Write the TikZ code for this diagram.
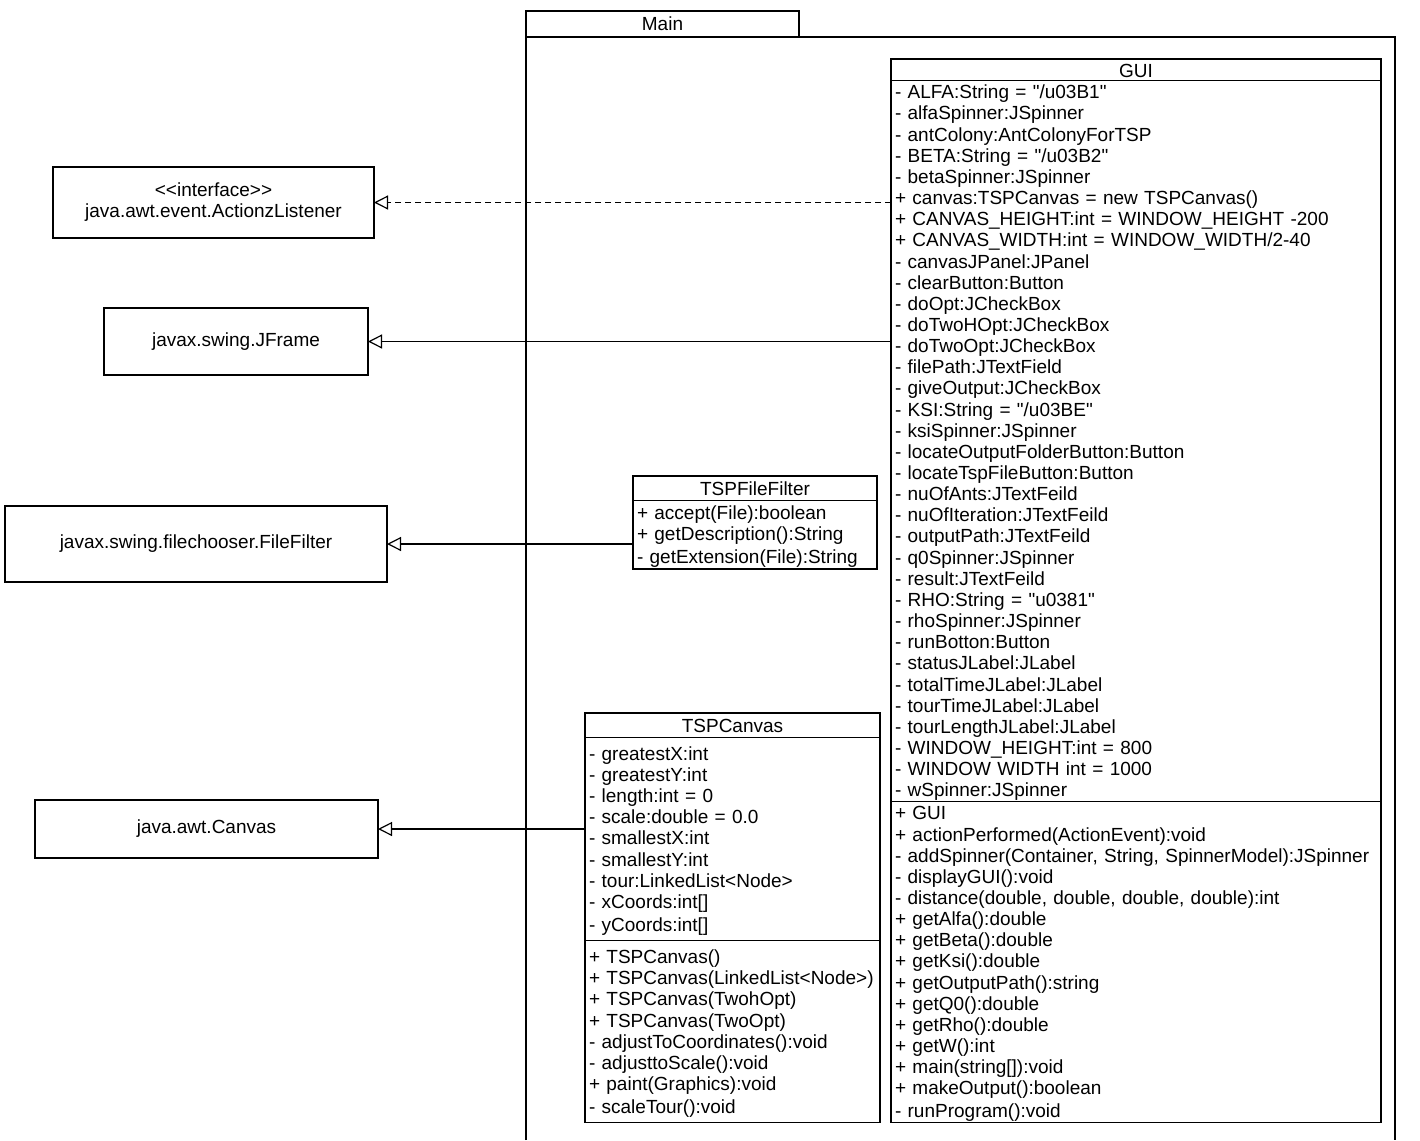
\documentclass[tikz,border=0pt]{standalone}
\usepackage{fontspec}
\newfontfamily\umlsans{Liberation Sans}
\usetikzlibrary{positioning,arrows.meta}
\newcommand\umlfont{\umlsans\fontsize{19}{21.15}\selectfont}
\newcommand\umlstrut{\rule[-3pt]{0pt}{21.15pt}}
\tikzset{
  umlbox/.style={draw, line width=1.3pt, outer sep=0pt, inner xsep=4pt, inner ysep=0.5pt,
    font=\umlfont, execute at begin node=\umlstrut, execute at end node=\umlstrut},
  classhead/.style={umlbox, align=center},
  classpart/.style={umlbox, align=left},
  basebox/.style={draw, line width=1.3pt, outer sep=0pt, align=center, font=\umlfont},
  extends/.style={line width=1.2pt, -{Triangle[open,length=14pt,width=14pt]}},
  realizes/.style={extends, dash pattern=on 6pt off 4pt}
}
\begin{document}
\begin{tikzpicture}[x=1pt,y=-1pt]
    \useasboundingbox[fill=white] (0,0) rectangle (1420,1140);
    \node[basebox, minimum width=273pt, minimum height=26pt, anchor=north west] (main) at (526,11) {Main};
    \draw[line width=1.1pt] (526,1140) -- (main.south west) -- (1395,37) -- (1395,1140);

    \node[classhead, text width=482pt, anchor=north west, inner ysep=0pt] (gui) at (891,59) {GUI};
    \node[classpart, text width=482pt, below=0pt of gui] (guiattr) {- ALFA:String = "/u03B1"\\
- alfaSpinner:JSpinner\\
- antColony:AntColonyForTSP\\
- BETA:String = "/u03B2"\\
- betaSpinner:JSpinner\\
+ canvas:TSPCanvas = new TSPCanvas()\\
+ CANVAS\_HEIGHT:int = WINDOW\_HEIGHT -200\\
+ CANVAS\_WIDTH:int = WINDOW\_WIDTH/2-40\\
- canvasJPanel:JPanel\\
- clearButton:Button\\
- doOpt:JCheckBox\\
- doTwoHOpt:JCheckBox\\
- doTwoOpt:JCheckBox\\
- filePath:JTextField\\
- giveOutput:JCheckBox\\
- KSI:String = "/u03BE"\\
- ksiSpinner:JSpinner\\
- locateOutputFolderButton:Button\\
- locateTspFileButton:Button\\
- nuOfAnts:JTextFeild\\
- nuOfIteration:JTextFeild\\
- outputPath:JTextFeild\\
- q0Spinner:JSpinner\\
- result:JTextFeild\\
- RHO:String = "u0381"\\
- rhoSpinner:JSpinner\\
- runBotton:Button\\
- statusJLabel:JLabel\\
- totalTimeJLabel:JLabel\\
- tourTimeJLabel:JLabel\\
- tourLengthJLabel:JLabel\\
- WINDOW\_HEIGHT:int = 800\\
- WINDOW WIDTH int = 1000\\
- wSpinner:JSpinner};
    \node[classpart, text width=482pt, below=0pt of guiattr] (guiops) {+ GUI\\
+ actionPerformed(ActionEvent):void\\
- addSpinner(Container, String, SpinnerModel):JSpinner\\
- displayGUI():void\\
- distance(double, double, double, double):int\\
+ getAlfa():double\\
+ getBeta():double\\
+ getKsi():double\\
+ getOutputPath():string\\
+ getQ0():double\\
+ getRho():double\\
+ getW():int\\
+ main(string[]):void\\
+ makeOutput():boolean\\
- runProgram():void};

    \node[classhead, text width=236pt, anchor=north west, inner ysep=1.5pt] (tff) at (633,476) {TSPFileFilter};
    \node[classpart, text width=236pt, below=0pt of tff, inner ysep=1.3pt] (tffops) {+ accept(File):boolean\\
+ getDescription():String\\
- getExtension(File):String};

    \node[classhead, text width=287pt, anchor=north west, inner ysep=1.5pt] (tcv) at (585,713) {TSPCanvas};
    \node[classpart, text width=287pt, below=0pt of tcv, inner ysep=5pt] (tcvattr) {- greatestX:int\\
- greatestY:int\\
- length:int = 0\\
- scale:double = 0.0\\
- smallestX:int\\
- smallestY:int\\
- tour:LinkedList<Node>\\
- xCoords:int[]\\
- yCoords:int[]};
    \node[classpart, text width=287pt, below=0pt of tcvattr, inner ysep=5pt] (tcvops) {+ TSPCanvas()\\
+ TSPCanvas(LinkedList<Node>)\\
+ TSPCanvas(TwohOpt)\\
+ TSPCanvas(TwoOpt)\\
- adjustToCoordinates():void\\
- adjusttoScale():void\\
+ paint(Graphics):void\\
- scaleTour():void};

    \node[basebox, minimum width=321pt, minimum height=71pt] (listener) at (213.5,202.5) {<<interface>>\\java.awt.event.ActionzListener};
    \node[basebox, minimum width=264pt, minimum height=67pt] (jframe) at (236,341.5) {javax.swing.JFrame};
    \node[basebox, minimum width=382pt, minimum height=76pt] (filefilter) at (196,544) {javax.swing.filechooser.FileFilter};
    \node[basebox, minimum width=343pt, minimum height=58pt] (awtcanvas) at (206.5,829) {java.awt.Canvas};

    \draw[realizes] (listener.east -| gui.west) -- (listener.east);
    \draw[extends] (jframe.east -| gui.west) -- (jframe.east);
    \draw[extends] (filefilter.east -| tff.west) -- (filefilter.east);
    \draw[extends] (awtcanvas.east -| tcv.west) -- (awtcanvas.east);
\end{tikzpicture}
\end{document}
